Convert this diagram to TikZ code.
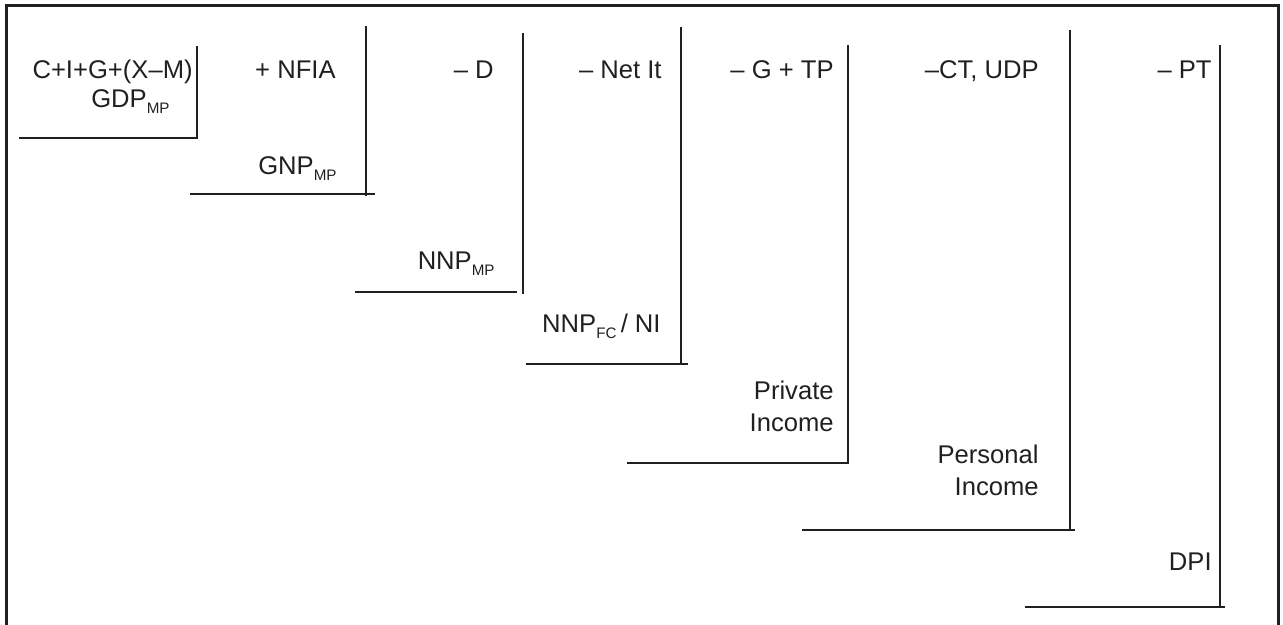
\documentclass[tikz,border=0pt]{standalone}
\usepackage{fontspec}
\setmainfont{Liberation Sans}
\definecolor{inkgray}{RGB}{35,31,32}
\newcommand{\lowsub}[1]{\raisebox{-2.6pt}{\fontsize{7.6}{8}\selectfont #1}}

\begin{document}
\begin{tikzpicture}[x=0.5pt, y=-0.5pt,
  lbl/.style={anchor=base east, inner sep=0pt, align=right, font=\fontsize{12.8}{16}\selectfont, text=inkgray},
  bar/.style={draw=inkgray, line width=1.25pt}
]
  \useasboundingbox (0,0) rectangle (1283,625);
  % outer frame, open at the bottom
  \draw[inkgray, line width=1.5pt] (6,625) -- (6,6) -- (1278,6) -- (1278,625);

  % the steps
  \draw[bar] (19,138) -- (197,138) -- (197,46);
  \draw[bar] (190,194) -- (375,194);
  \draw[bar] (366,196) -- (366,26);
  \draw[bar] (355,292) -- (517,292);
  \draw[bar] (523,294) -- (523,33);
  \draw[bar] (526,364) -- (688,364);
  \draw[bar] (681,365) -- (681,27);
  \draw[bar] (627,463) -- (848,463) -- (848,45);
  \draw[bar] (802,530) -- (1075,530);
  \draw[bar] (1070,531) -- (1070,30);
  \draw[bar] (1025,607) -- (1225,607);
  \draw[bar] (1220,608) -- (1220,45);

  % what is added or taken off
  \node[lbl] (exp) at (193,79) {C+I+G+(X–M)};
  \node[lbl] (nfia) at (336,79) {+ NFIA};
  \node[lbl] (dep) at (494,79) {– D};
  \node[lbl] (netit) at (662,79) {– Net It};
  \node[lbl] (gtp) at (834,79) {– G + TP};
  \node[lbl] (ctudp) at (1039,79) {–CT, UDP};
  \node[lbl] (pt) at (1212,79) {– PT};

  % the aggregates
  \node[lbl] (gdp) at (170,108) {GDP\lowsub{MP}};
  \node[lbl] (gnp) at (337,175) {GNP\lowsub{MP}};
  \node[lbl] (nnpmp) at (495,270) {NNP\lowsub{MP}};
  \node[lbl] (nnpfc) at (661,333) {NNP\lowsub{FC}\,/ NI};
  \node[lbl] (priv) at (834,431) {Private\\Income};
  \node[lbl] (pers) at (1039,495) {Personal\\Income};
  \node[lbl] (dpi) at (1212,570) {DPI};
\end{tikzpicture}
\end{document}
